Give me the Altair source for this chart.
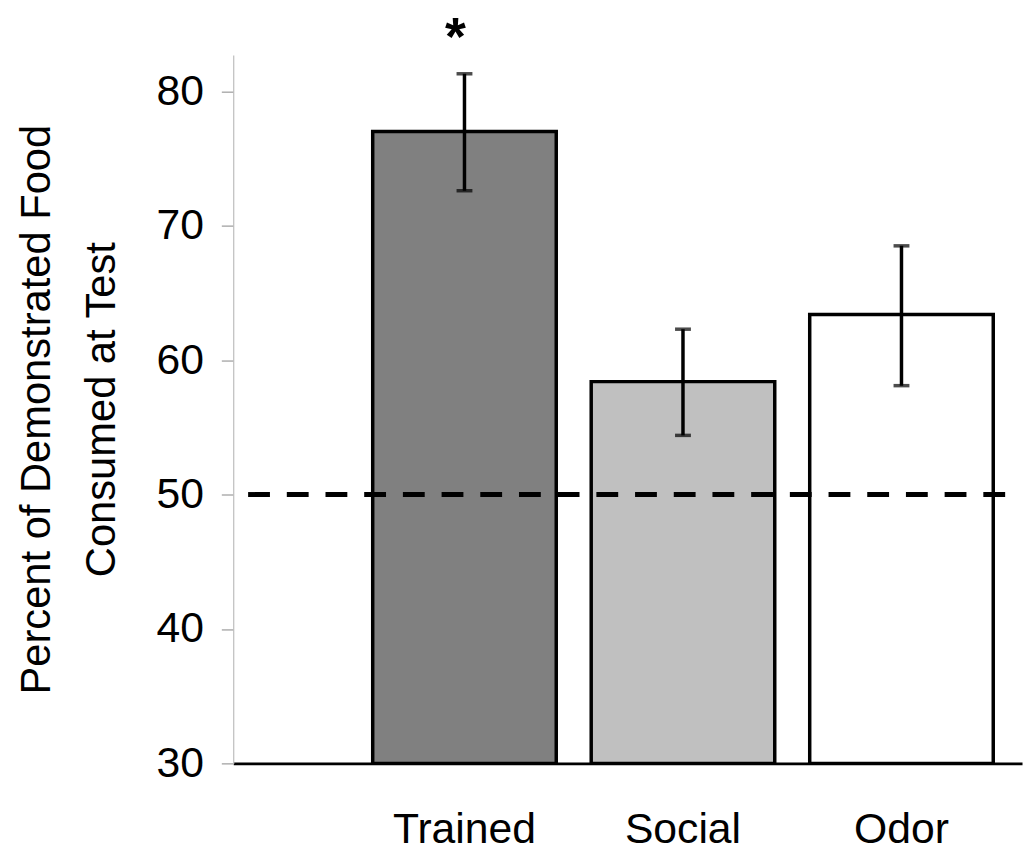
import altair as alt
import pandas as pd

groups = ["Trained", "Social", "Odor"]
means = [77.0, 58.4, 63.4]
lower = [72.6, 54.4, 58.1]
upper = [81.3, 62.3, 68.5]
fills = ["#808080", "#c0c0c0", "#ffffff"]
marks = ["*", "", ""]
chance = 50
y_base = 30
y_top = 82.7
star_level = 85
y_ticks = [30, 40, 50, 60, 70, 80]
y_title = ["Percent of Demonstrated Food", "Consumed at Test"]

df = pd.DataFrame({"group": groups, "mean": means, "lo": lower, "hi": upper, "mark": marks})

FONT = "Liberation Sans"

xscale = alt.Scale(paddingInner=0.160, paddingOuter=0.385, align=0.829)
x = alt.X("group:N", sort=groups, scale=xscale,
          axis=alt.Axis(title=None, labelAngle=0, ticks=False, domainColor="black", domainWidth=3,
                        labelFontSize=43, labelColor="black", labelPadding=46, labelFont=FONT,
                        labelBaseline="top"))
yscale = alt.Scale(domain=[y_base, y_top], nice=False, zero=False)
y = alt.Y("mean:Q", scale=yscale,
          axis=alt.Axis(values=y_ticks, title=y_title, grid=False, domainColor="#bdbdbd", domainWidth=1.2,
                        tickColor="#9a9a9a", tickSize=12, tickWidth=1.2, labelFontSize=43, labelColor="black",
                        labelPadding=18, labelFont=FONT, titleFont=FONT, titleFontSize=42,
                        titleFontWeight="normal", titleColor="black", titleLineHeight=65,
                        titleAngle=-90, titleAlign="center", titleBaseline="alphabetic",
                        titleX=-185, titleY=357))

bars = alt.Chart(df).mark_bar(stroke="black", strokeWidth=3.5).encode(
    x=x, y=y, y2=alt.datum(y_base),
    color=alt.Color("group:N", scale=alt.Scale(domain=groups, range=fills), legend=None))

err = alt.Chart(df).mark_rule(color="black", strokeWidth=3.5).encode(
    x=alt.X("group:N", sort=groups), y=alt.Y("lo:Q", scale=yscale), y2="hi:Q")

caps_lo = alt.Chart(df).mark_tick(color="black", thickness=3.5, size=16).encode(
    x=alt.X("group:N", sort=groups), y=alt.Y("lo:Q", scale=yscale))
caps_hi = alt.Chart(df).mark_tick(color="black", thickness=3.5, size=16).encode(
    x=alt.X("group:N", sort=groups), y=alt.Y("hi:Q", scale=yscale))

line = alt.Chart(pd.DataFrame({"c": [chance]})).mark_rule(
    color="black", strokeWidth=5, strokeDash=[22, 17], strokeDashOffset=22).encode(
    y=alt.Y("c:Q", scale=yscale))

star = alt.Chart(df).mark_text(fontSize=54, fontWeight="bold", font=FONT, baseline="top", dx=-9, dy=-12,
                               color="black").encode(
    x=alt.X("group:N", sort=groups), y=alt.datum(star_level), text="mark:N")

chart = alt.layer(bars, err, caps_lo, caps_hi, line, star).properties(
    width=795, height=714, autosize=alt.AutoSizeParams(type="none"),
    padding={"left": 227, "top": 44, "right": 3, "bottom": 88}
).configure_view(stroke=None).configure_axis(labelFont=FONT)

chart.save("out.html", embed_options={"renderer": "svg", "actions": False})
